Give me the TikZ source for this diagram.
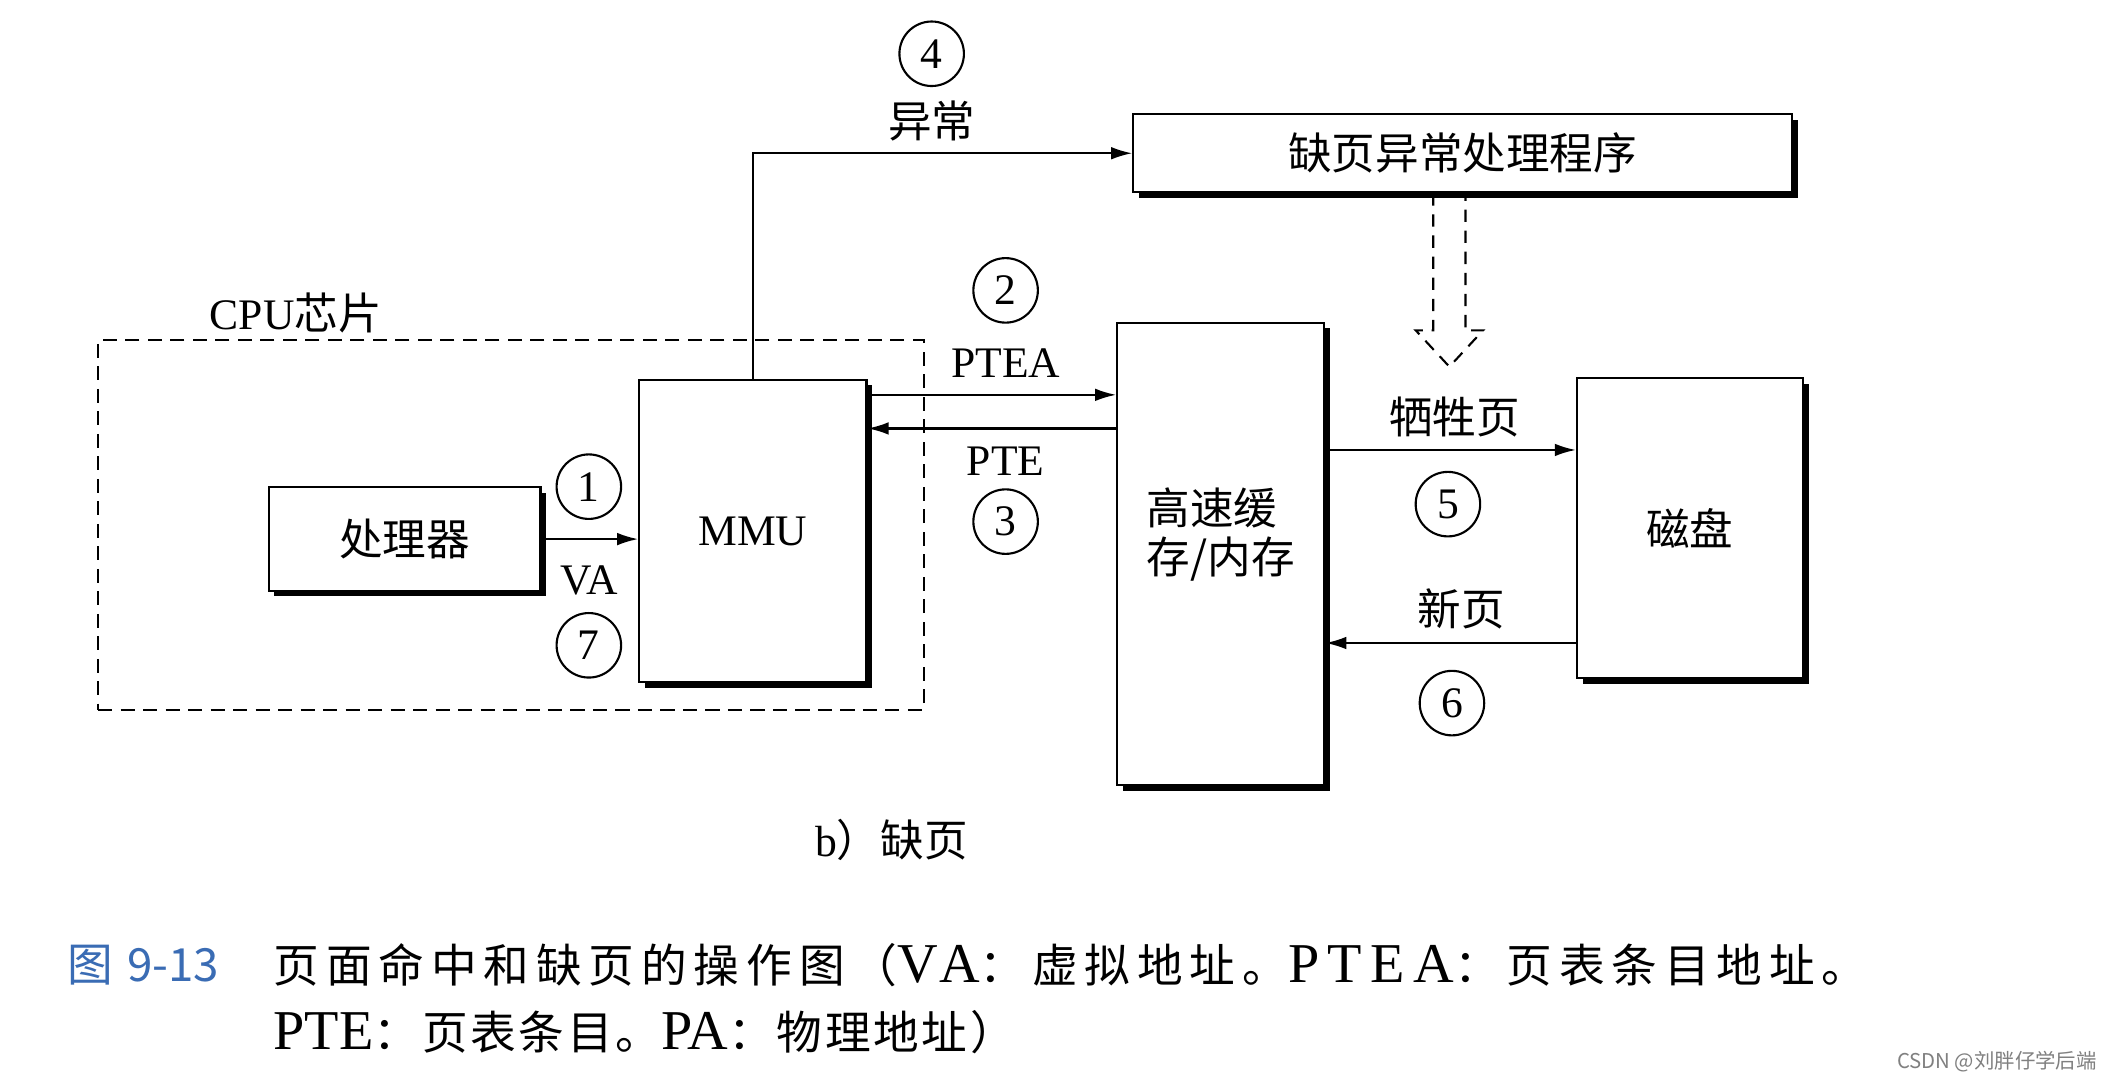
\documentclass[tikz,border=0pt]{standalone}
\usepackage{fontspec}
\setmainfont{Liberation Serif}
\newfontfamily\cjk{Noto Sans CJK SC}
\newfontfamily\capzh[LetterSpace=15]{Noto Sans CJK SC}
\newfontfamily\caplat[LetterSpace=15]{Liberation Serif}
\newfontfamily\capzhb[LetterSpace=6]{Noto Sans CJK SC}
\newcommand{\zh}[1]{{\cjk #1}}
\newcommand{\lat}[1]{{\rmfamily\fontsize{16}{18}\selectfont #1}}
\usetikzlibrary{calc, arrows.meta, shadows, positioning}
\definecolor{figblue}{RGB}{58,108,180}

\begin{document}
\begin{tikzpicture}[x=0.013444cm, y=-0.013444cm,
		>={Latex[length=6pt,width=3.6pt]},
		every node/.style={font=\fontsize{12.4}{13.8}\selectfont},
		box/.style={draw, line width=0.6pt, fill=white, rectangle, inner sep=0pt,
			drop shadow={shadow xshift=1.6pt, shadow yshift=-1.6pt, opacity=1, fill=black}},
		numcircle/.style={draw, circle, line width=0.6pt, minimum size=0.645cm, inner sep=0pt},
		chip/.style={draw, dash pattern=on 4pt off 2.4pt, line width=0.6pt, rectangle,
			minimum width=8.255cm, minimum height=3.697cm},
		link/.style={->, line width=0.6pt},
		caption/.style={anchor=west, inner sep=0pt, font=\fontsize{13}{15}\selectfont}
		]
		\fill[white] (0,0) rectangle (1568,805);
		\useasboundingbox (0,0) rectangle (1568,805);
		
		% chip and boxes
		\node [chip](cpu) at (380,390.5) {};
		\node (cpulabel) at (220,233) {CPU\zh{芯片}};
		
		\node [box, minimum width=2.716cm, minimum height=1.035cm](proc) at (301,401) {\zh{处理器}};
		\node [box, minimum width=2.272cm, minimum height=3.025cm](mmu) at (560,395) {MMU};
		\node [box, minimum width=2.070cm, minimum height=4.625cm, align=left, text depth=0.47cm](cache) at (908,412) {\zh{高速缓}\\\zh{存/内存}};
		\node [box, minimum width=2.259cm, minimum height=2.998cm](disk) at (1257,393) {\zh{磁盘}};
		\node [box, minimum width=6.588cm, minimum height=0.780cm](handler) at (1088,114) {\zh{缺页异常处理程序}};
		
		% step numbers and labels
		\node [numcircle](n1) at (438,362) {1};
		\node (va) at (438,432) {VA};
		\node [numcircle](n7) at (438,480) {7};
		
		\node [numcircle](n2) at (748,216) {2};
		\node (ptealabel) at (748,270) {PTEA};
		\node (ptelabel) at (748,343) {PTE};
		\node [numcircle](n3) at (748,388) {3};
		
		\node [numcircle](n4) at (693,40) {4};
		\node (exc) at (693,90) {\zh{异常}};
		
		\node (victimlabel) at (1082,310) {\zh{牺牲页}};
		\node [numcircle](n5) at (1077,375) {5};
		\node (newlabel) at (1087,453) {\zh{新页}};
		\node [numcircle](n6) at (1080,523) {6};
		
		% connectors
		\coordinate (ptea) at ($(mmu.north east)+(0,12)$);
		\coordinate (pte) at ($(mmu.north east)+(0,37)$);
		\coordinate (victim) at ($(disk.north west)+(0,54)$);
		\coordinate (newpg) at ($(disk.south west)+(0,-27)$);
		
		\draw[link] (proc.east) -- (proc.east -| mmu.west);
		\draw[link] (mmu.north) |- (handler.west);
		\draw[link] (ptea) -- (ptea -| cache.west);
		\draw[link] (pte -| cache.west) -- (pte);
		\draw[link] (victim -| cache.east) -- (victim);
		\draw[link] (newpg) -- (newpg -| cache.east);
		
		% hollow dashed arrow from the handler
		\coordinate (dtop) at ($(handler.south)+(-10,0)$);
		\draw[line width=0.6pt, dash pattern=on 3.5pt off 2.5pt]
		([xshift=-0.16cm]dtop) -- ++(0,102) -- ++(-13,0) -- ++(25,27) -- ++(25,-27) -- ++(-13,0) -- ++(0,-102);
		
		% captions
		\node (sub) at (663,625) {b\zh{）缺页}};
		\node [caption, text=figblue](fignum) at (50,718) {\cjk 图\hspace{0.3em}9-13};
		\node [caption](cap1) at (203,718) {\capzh 页面命中和缺页的操作图（\lat{\caplat VA}：虚拟地址。\lat{\caplat PTEA}：页表条目地址。};
		\node [caption](cap2) at (203,768) {\lat{PTE}\capzhb ：页表条目。\lat{PA}：物理地址）};
		\node [anchor=east, text=gray, inner sep=0pt, font=\fontsize{5.8}{7}\selectfont\cjk](mark) at (1560,790) {CSDN @刘胖仔学后端};
		
	\end{tikzpicture}
\end{document}
